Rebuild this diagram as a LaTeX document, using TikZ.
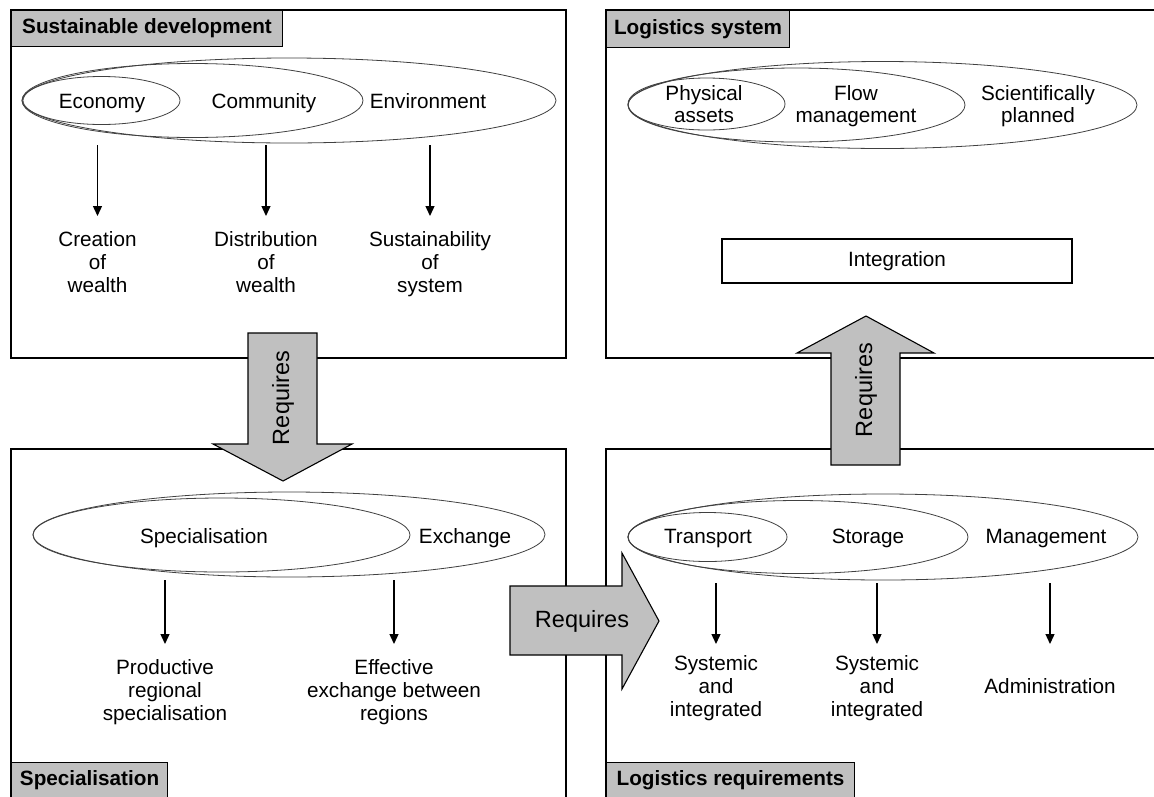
\documentclass[tikz,border=0pt]{standalone}
\usepackage{fontspec}
\setmainfont{Liberation Sans}
\usetikzlibrary{arrows.meta,shapes.geometric,calc}
\definecolor{panelgray}{HTML}{C0C0C0}
\begin{document}
\begin{tikzpicture}[x=1pt,y=-1pt,
  frame/.style={draw=black,line width=2.2pt},
  tab/.style={draw=black,line width=1.1pt,fill=panelgray,inner sep=0,
    font=\fontsize{20.7}{24}\selectfont\bfseries},
  oval/.style={ellipse,draw=black!75,line width=0.8pt,inner sep=0},
  lbl/.style={font=\fontsize{20.7}{23}\selectfont,align=center,inner sep=0},
  word/.style={font=\fontsize{20.7}{23}\selectfont,inner sep=0,anchor=base},
  arr/.style={line width=1.3pt,-{Triangle[length=10pt,width=9pt]}},
  bigarrow/.style={draw=black,line width=1.1pt,fill=panelgray,line join=miter},
  req/.style={font=\fontsize{23.5}{26}\selectfont,inner sep=0}]
\clip (0,0) rectangle (1154,796);
\fill[white] (0,0) rectangle (1154,796);

% ---------- panel tabs ----------
\node[tab,anchor=north west,minimum width=271pt,minimum height=36pt] (tabSD) at (11,10) {Sustainable development};
\node[tab,anchor=north west,minimum width=183pt,minimum height=37pt] (tabLS) at (606,10) {Logistics system};
\node[tab,anchor=north west,minimum width=156pt,minimum height=36pt] (tabSP) at (11,762) {Specialisation};
\node[tab,anchor=north west,minimum width=248pt,minimum height=36pt] (tabLR) at (606,762) {Logistics requirements};

% ---------- panel frames ----------
\draw[frame] (11,10) rectangle (566,358);
\draw[frame] (606,10) rectangle (1170,358);
\draw[frame] (11,449) rectangle (566,820);
\draw[frame] (606,449) rectangle (1170,820);

% ---------- sustainable development ----------
\node[oval,minimum width=534pt,minimum height=85pt] (tlOut) at (289,100.5) {};
\node[oval,minimum width=341pt,minimum height=74pt] (tlMid) at (192.5,100.5) {};
\node[oval,minimum width=157pt,minimum height=48pt] (tlIn) at (101.5,100.5) {};
\node[word] (econ) at (102,108.5) {Economy};
\node[word] (comm) at (264,108.5) {Community};
\node[word] (envi) at (428,108.5) {Environment};
\node[lbl,anchor=north] (cw) at (97.5,231) {Creation\\of\\wealth};
\node[lbl,anchor=north] (dw) at (266,231) {Distribution\\of\\wealth};
\node[lbl,anchor=north] (sw) at (430,231) {Sustainability\\of\\system};
\foreach \t in {cw,dw,sw}
  \draw[arr] ($(\t.north |- tlOut.south)+(0,2)$) -- ($(\t.north)+(0,-15)$);

% ---------- logistics system ----------
\node[oval,minimum width=509pt,minimum height=87pt] (trOut) at (882.5,105) {};
\node[oval,minimum width=337pt,minimum height=74pt] (trMid) at (796.5,105) {};
\node[oval,minimum width=157pt,minimum height=52pt] (trIn) at (706.5,104) {};
\node[lbl,font=\fontsize{20.7}{22}\selectfont] (phys) at (704,104) {Physical\\assets};
\node[lbl,font=\fontsize{20.7}{22}\selectfont] (flow) at (856,106) {Flow\\management};
\node[lbl,font=\fontsize{20.7}{22}\selectfont] (scie) at (1038,106) {Scientifically\\planned};
\node[draw=black,line width=1.1pt,minimum width=350pt,minimum height=44pt,
  font=\fontsize{20.7}{24}\selectfont] (integ) at (897,261) {Integration};

% ---------- specialisation ----------
\node[oval,minimum width=512pt,minimum height=85pt] (blOut) at (289,534.5) {};
\node[oval,minimum width=377pt,minimum height=74pt] (blIn) at (221.5,535) {};
\node[word] (spec) at (204,543.5) {Specialisation};
\node[word] (exch) at (465,543.5) {Exchange};
\node[lbl,anchor=north] (prs) at (165,659) {Productive\\regional\\specialisation};
\node[lbl,anchor=north] (eeb) at (394,659) {Effective\\exchange between\\regions};
\foreach \t in {prs,eeb}
  \draw[arr] ($(\t.north |- blOut.south)+(0,3)$) -- ($(\t.north)+(0,-15)$);

% ---------- logistics requirements ----------
\node[oval,minimum width=510pt,minimum height=86pt] (brOut) at (883,537) {};
\node[oval,minimum width=340pt,minimum height=73pt] (brMid) at (798,537) {};
\node[oval,minimum width=159pt,minimum height=49pt] (brIn) at (707.5,537) {};
\node[word] (tran) at (708,543.5) {Transport};
\node[word] (stor) at (868,543.5) {Storage};
\node[word] (mana) at (1046,543.5) {Management};
\node[lbl,anchor=north] (si1) at (716,655) {Systemic\\and\\integrated};
\node[lbl,anchor=north] (si2) at (877,655) {Systemic\\and\\integrated};
\node[lbl] (admi) at (1050,686) {Administration};
\foreach \t in {si1,si2,admi}
  \draw[arr] ($(\t.north |- brOut.south)+(0,3)$) -- ($(\t.north |- si1.north)+(0,-11)$);

% ---------- "requires" arrows between panels ----------
\draw[bigarrow] (248,333) -- (317,333) -- (317,444) -- (352,444) -- (283,481)
  -- (213,444) -- (248,444) -- cycle;
\node[req,rotate=90] (reqDown) at (283,398) {Requires};

\draw[bigarrow] (831,465) -- (900,465) -- (900,353) -- (934,353) -- (866,316)
  -- (797,353) -- (831,353) -- cycle;
\node[req,rotate=90] (reqUp) at (866,390) {Requires};

\draw[bigarrow] (510,586) -- (622,586) -- (622,553) -- (659,621) -- (622,689)
  -- (622,655) -- (510,655) -- cycle;
\node[req] (reqRight) at (582,621) {Requires};
\end{tikzpicture}
\end{document}
